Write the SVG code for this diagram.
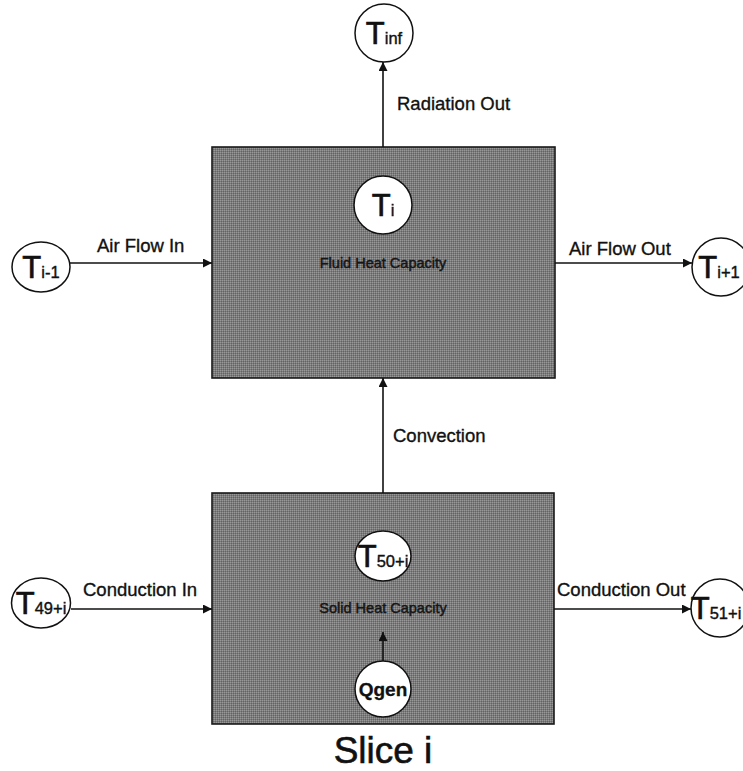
<svg xmlns="http://www.w3.org/2000/svg" width="743" height="771" viewBox="0 0 743 771">
<style>
text{font-family:"Liberation Sans",Arial,sans-serif;fill:#111;stroke:#111;stroke-width:0.35}
.lbl{font-size:18.5px}
.cap{font-size:14.5px;text-anchor:middle;fill:#151515;stroke:#151515;stroke-width:0.45}
.node{fill:#fff;stroke:#111;stroke-width:1.5}
.big{font-size:31px;text-anchor:middle;stroke-width:0.7}
.sub{font-size:16.5px;stroke-width:0.4}
.box{fill:url(#dither);stroke:#1a1a1a;stroke-width:1.6}
.wire{stroke:#111;stroke-width:1.6;fill:none;marker-end:url(#ah)}
</style>
<defs>
<pattern id="dither" width="2" height="2" patternUnits="userSpaceOnUse">
<rect width="2" height="2" fill="#7c7c7c"/>
<rect width="1" height="1" fill="#989898"/>
<rect x="1" y="1" width="1" height="1" fill="#636363"/>
</pattern>
<marker id="ah" viewBox="0 0 10 10" refX="10" refY="5" markerWidth="9" markerHeight="9" markerUnits="userSpaceOnUse" orient="auto">
<path d="M0,0 L10,5 L0,10 z" fill="#111"/>
</marker>
</defs>

<g id="fluid-box"><rect class="box" x="212" y="147" width="343" height="231"/><text class="cap" x="383" y="268">Fluid Heat Capacity</text></g>
<g id="solid-box"><rect class="box" x="212" y="493" width="342" height="231"/><text class="cap" x="383" y="613">Solid Heat Capacity</text></g>

<g id="connectors">
<line class="wire" x1="383" y1="147" x2="383" y2="62"/>
<line class="wire" x1="70" y1="263" x2="212" y2="263"/>
<line class="wire" x1="555" y1="263" x2="692" y2="263"/>
<line class="wire" x1="383" y1="493" x2="383" y2="378"/>
<line class="wire" x1="71" y1="609" x2="212" y2="609"/>
<line class="wire" x1="554" y1="609" x2="691" y2="609"/>
<line class="wire" x1="383" y1="661" x2="383" y2="632"/>
<text class="lbl" x="397" y="110">Radiation Out</text>
<text class="lbl" x="97" y="252">Air Flow In</text>
<text class="lbl" x="569" y="255">Air Flow Out</text>
<text class="lbl" x="393" y="442">Convection</text>
<text class="lbl" x="83" y="596">Conduction In</text>
<text class="lbl" x="557" y="596">Conduction Out</text>
</g>

<g id="T_inf"><circle class="node" cx="384" cy="33" r="29"/><text class="big" x="384" y="44">T<tspan class="sub">inf</tspan></text></g>
<g id="T_i-1"><ellipse class="node" cx="41" cy="267" rx="29" ry="25"/><text class="big" x="41" y="278">T<tspan class="sub">i-1</tspan></text></g>
<g id="T_i+1"><circle class="node" cx="721" cy="267" r="29"/><text class="big" x="719" y="278">T<tspan class="sub">i+1</tspan></text></g>
<g id="T_i"><circle class="node" cx="383" cy="205" r="29"/><text class="big" x="383" y="216">T<tspan class="sub">i</tspan></text></g>
<g id="T_49+i"><ellipse class="node" cx="41" cy="603" rx="29.5" ry="25"/><text class="big" x="41" y="614">T<tspan class="sub">49+i</tspan></text></g>
<g id="T_51+i"><circle class="node" cx="720" cy="608" r="29"/><text class="big" x="716" y="619">T<tspan class="sub">51+i</tspan></text></g>
<g id="T_50+i"><ellipse class="node" cx="383" cy="556" rx="28" ry="25"/><text class="big" x="383" y="567">T<tspan class="sub">50+i</tspan></text></g>
<g id="Qgen"><circle class="node" cx="383" cy="689" r="28"/><text x="383" y="696" style="font-size:19px;font-weight:bold;text-anchor:middle;stroke-width:0.3">Qgen</text></g>

<text x="383" y="763" style="font-size:37px;text-anchor:middle;stroke-width:0.6">Slice i</text>
</svg>
